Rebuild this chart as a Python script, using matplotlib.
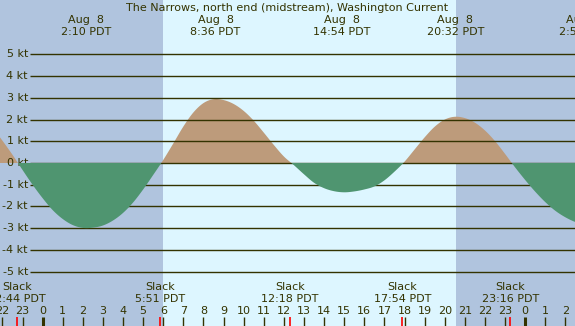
import numpy as np
import matplotlib.pyplot as plt

# current speed (kt) read every half hour, hours relative to midnight Aug 8
hours = np.arange(-2.5, 27.5, 0.5)
speed = [1.65, 1.03, 0.38, -0.32, -1.00, -1.62, -2.17, -2.58, -2.86, -2.99,
         -2.98, -2.88, -2.65, -2.30, -1.82, -1.22, -0.55, 0.14, 0.90, 1.68,
         2.33, 2.76, 2.94, 2.90, 2.72, 2.40, 1.95, 1.40, 0.83, 0.30,
         -0.10, -0.52, -0.91, -1.16, -1.30, -1.35, -1.31, -1.22, -1.08, -0.80,
         -0.40, 0.06, 0.62, 1.18, 1.67, 2.00, 2.13, 2.07, 1.86, 1.50,
         1.01, 0.42, -0.20, -0.78, -1.32, -1.80, -2.20, -2.50, -2.72, -2.85]

slack_hours = [-1.27, 5.85, 12.30, 17.90, 23.27]
slack_labels = ["22:44", "5:51", "12:18", "17:54", "23:16"]
max_hours = [2.17, 8.60, 14.90, 20.53, 26.92]
max_labels = ["2:10", "8:36", "14:54", "20:32", "2:55"]
sunrise, sunset = 5.99, 20.56
kt_levels = list(range(-5, 6))
tick_hours = list(range(-2, 27))

title = "The Narrows, north end (midstream), Washington Current"

txt = "#333300"
flood = "#BD9B7B"
ebb = "#4F9570"
day = "#DDF6FF"
night = "#B0C4DE"

plt.rcParams["font.family"] = "DejaVu Sans"


# smooth (catmull-rom) drawing of the read points
def smooth(x, y, n=12):
    x = np.asarray(x, float)
    y = np.asarray(y, float)
    yp = np.concatenate([[2 * y[0] - y[1]], y, [2 * y[-1] - y[-2]]])
    xs, ys = [], []
    for i in range(len(y) - 1):
        p0, p1, p2, p3 = yp[i], yp[i + 1], yp[i + 2], yp[i + 3]
        s = np.linspace(0, 1, n, endpoint=False)
        m1, m2 = (p2 - p0) / 2, (p3 - p1) / 2
        h00 = 2 * s**3 - 3 * s**2 + 1
        h10 = s**3 - 2 * s**2 + s
        h01 = -2 * s**3 + 3 * s**2
        h11 = s**3 - s**2
        xs.append(x[i] + s * (x[i + 1] - x[i]))
        ys.append(h00 * p1 + h10 * m1 + h01 * p2 + h11 * m2)
    xs.append([x[-1]])
    ys.append([y[-1]])
    return np.concatenate(xs), np.concatenate(ys)


fig = plt.figure(figsize=(5.75, 3.26), dpi=100)
ax = fig.add_axes([0, 0, 1, 1])
ax.set_xlim(-2.12, 26.48)
ax.set_ylim(-7.51, 7.51)
ax.axis("off")
ax.add_patch(plt.Rectangle((0, 0), 1, 1, transform=ax.transAxes,
                           color=day, zorder=0))
ax.axvspan(-5, sunrise, color=night, lw=0, zorder=0.5)
ax.axvspan(sunset, 30, color=night, lw=0, zorder=0.5)

t, v = smooth(hours, speed)
ax.fill_between(t, v, 0, where=v >= 0, interpolate=True,
                color=flood, lw=0, zorder=1)

# kt grid lines + labels
yt = ax.get_yaxis_transform()
ax.hlines(kt_levels, 30 / 575, 1, transform=yt, color=txt, lw=1.0, zorder=2)
for k in kt_levels:
    ax.text(28 / 575, k, f"{k} kt", transform=yt, ha="right", va="center",
            fontsize=8, color=txt)

ax.fill_between(t, v, 0, where=v <= 0, interpolate=True,
                color=ebb, lw=0, zorder=3)

# hour ticks along bottom
xt = ax.get_xaxis_transform()
for h in tick_hours:
    w = 2.2 if h % 24 == 0 else 1.0
    ax.vlines(h, 0, 9 / 326, transform=xt, color=txt, lw=w, zorder=4)
    ax.text(h, 14.5 / 326, str(h % 24), transform=xt, ha="center",
            va="center", fontsize=8, color=txt)
ax.vlines(slack_hours, 0, 9 / 326, transform=xt, color="red", lw=1.2,
          zorder=5)

for h, s in zip(slack_hours, slack_labels):
    ax.text(h, 39 / 326, "Slack", transform=xt, ha="center", va="center",
            fontsize=8, color=txt)
    ax.text(h, 27 / 326, s + " PDT", transform=xt, ha="center",
            va="center", fontsize=8, color=txt)

for h, s in zip(max_hours, max_labels):
    ax.text(h, 1 - 20 / 326, "Aug  8", transform=xt, ha="center",
            va="center", fontsize=8, color=txt)
    ax.text(h, 1 - 31.7 / 326, s + " PDT", transform=xt, ha="center",
            va="center", fontsize=8, color=txt)

ax.text(0.5, 1 - 8.3 / 326, title, transform=ax.transAxes, ha="center",
        va="center", fontsize=8, color=txt)

fig.savefig("out.png", dpi=100)
